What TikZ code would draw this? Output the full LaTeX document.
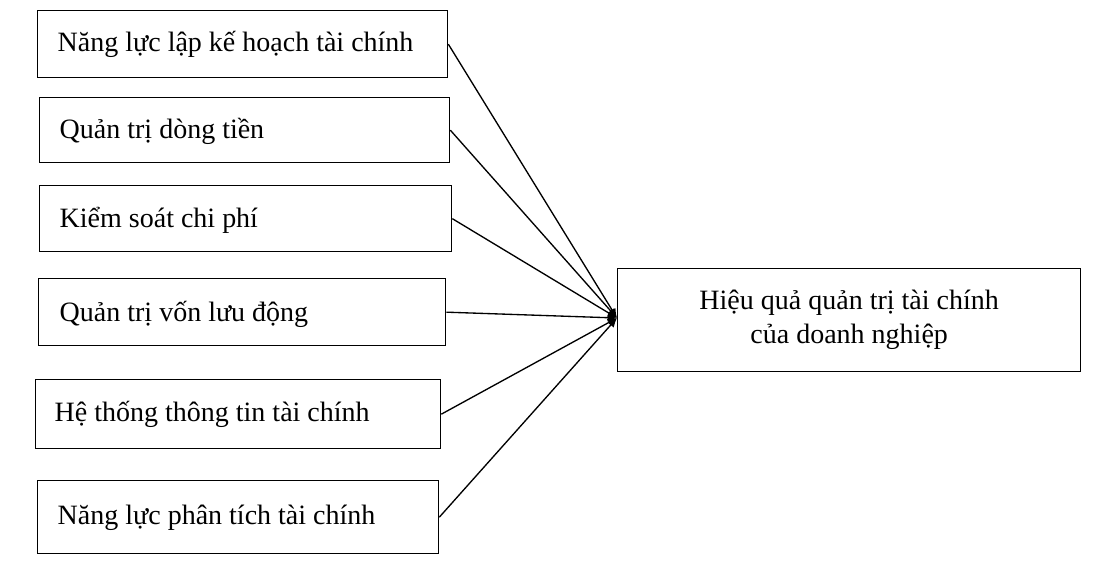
\documentclass[tikz,border=0pt]{standalone}
\usepackage{fontspec}
\setmainfont{Liberation Serif}
\usetikzlibrary{arrows.meta}
\begin{document}
\begin{tikzpicture}[x=0.75pt,y=-0.75pt,
  box/.style={draw,line width=1pt,inner sep=0pt},
  lbl/.style={anchor=west,font=\fontsize{21}{25}\selectfont},
  arr/.style={line width=1pt,-{Latex[length=7pt,width=6pt]}}]
\useasboundingbox (0,0) rectangle (1093,564);
\node[box,minimum width=410*0.75pt,minimum height=67*0.75pt,anchor=north west] (b1) at (37,10) {};
\node[box,minimum width=410*0.75pt,minimum height=65*0.75pt,anchor=north west] (b2) at (39,97) {};
\node[box,minimum width=412*0.75pt,minimum height=66*0.75pt,anchor=north west] (b3) at (39,185) {};
\node[box,minimum width=407*0.75pt,minimum height=67*0.75pt,anchor=north west] (b4) at (38,278) {};
\node[box,minimum width=405*0.75pt,minimum height=69*0.75pt,anchor=north west] (b5) at (35,379) {};
\node[box,minimum width=401*0.75pt,minimum height=73*0.75pt,anchor=north west] (b6) at (37,480) {};
\node[box,minimum width=463*0.75pt,minimum height=103*0.75pt,anchor=north west,align=center,font=\fontsize{21}{25.5}\selectfont] (r) at (617,268) {Hiệu quả quản trị tài chính\\của doanh nghiệp};
\node[lbl] (t1) at (53,44) {Năng lực lập kế hoạch tài chính};
\node[lbl] (t2) at (55,131) {Quản trị dòng tiền};
\node[lbl] (t3) at (55,220) {Kiểm soát chi phí};
\node[lbl] (t4) at (55,314) {Quản trị vốn lưu động};
\node[lbl] (t5) at (50,414) {Hệ thống thông tin tài chính};
\node[lbl] (t6) at (53,518) {Năng lực phân tích tài chính};
\coordinate (p) at (617,318);
\draw[arr] (b1.east) -- (p);
\draw[arr] (b2.east) -- (p);
\draw[arr] (b3.east) -- (p);
\draw[arr] (b4.east) -- (p);
\draw[arr] (b5.east) -- (p);
\draw[arr] (b6.east) -- (p);
\end{tikzpicture}
\end{document}
